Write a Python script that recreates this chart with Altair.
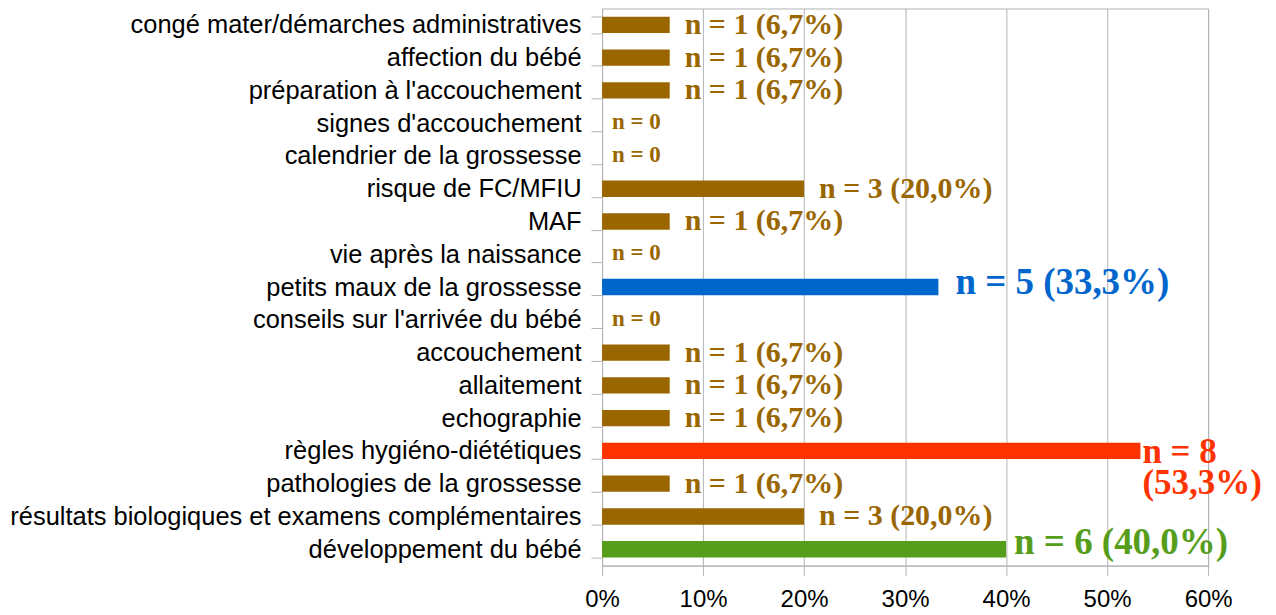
import altair as alt
import pandas as pd

categories = [
    "congé mater/démarches administratives",
    "affection du bébé",
    "préparation à l'accouchement",
    "signes d'accouchement",
    "calendrier de la grossesse",
    "risque de FC/MFIU",
    "MAF",
    "vie après la naissance",
    "petits maux de la grossesse",
    "conseils sur l'arrivée du bébé",
    "accouchement",
    "allaitement",
    "echographie",
    "règles hygiéno-diététiques",
    "pathologies de la grossesse",
    "résultats biologiques et examens complémentaires",
    "développement du bébé",
]
counts = [1, 1, 1, 0, 0, 3, 1, 0, 5, 0, 1, 1, 1, 8, 1, 3, 6]
percents = [6.7, 6.7, 6.7, 0, 0, 20.0, 6.7, 0, 33.3, 0, 6.7, 6.7, 6.7, 53.3, 6.7, 20.0, 40.0]
highlights = {
    "petits maux de la grossesse": "blue",
    "règles hygiéno-diététiques": "red",
    "développement du bébé": "green",
}

COLORS = {"brown": "#996600", "blue": "#0066CC", "red": "#FF3300", "green": "#579D1C"}

rows = []
for cat, n, p in zip(categories, counts, percents):
    hl = highlights.get(cat)
    pct_txt = f"{p:.1f}".replace(".", ",")
    if n == 0:
        label, group = "n = 0", "zero"
    elif hl == "red":
        label, group = f"n = {n}\n({pct_txt}%)", "red"
    elif hl:
        label, group = f"n = {n} ({pct_txt}%)", hl
    else:
        label, group = f"n = {n} ({pct_txt}%)", "brown"
    rows.append({"cat": cat, "pct": p, "label": label, "group": group,
                 "color": COLORS[hl] if hl else COLORS["brown"]})
df = pd.DataFrame(rows)

y_enc = alt.Y(
    "cat:N", sort=categories, title=None,
    scale=alt.Scale(paddingInner=0.5, paddingOuter=0.25),
    axis=alt.Axis(
        labelFont="Liberation Sans", labelFontSize=25.5, labelColor="#000000",
        labelPadding=10, labelLimit=1000, tickSize=11, tickColor="#b3b3b3",
        domainColor="#b3b3b3", tickBand="extent", grid=False,
    ),
)
x_enc = alt.X(
    "pct:Q", title=None,
    scale=alt.Scale(domain=[0, 60], nice=False),
    axis=alt.Axis(
        values=[0, 10, 20, 30, 40, 50, 60], labelExpr="datum.value + '%'",
        labelFont="Liberation Sans", labelFontSize=24, labelColor="#000000",
        labelPadding=12, labelFlush=False, tickSize=10, tickColor="#b3b3b3",
        domainColor="#b3b3b3", gridColor="#b3b3b3", gridWidth=1,
    ),
)

base = alt.Chart(df)
bars = base.mark_bar().encode(x=x_enc, y=y_enc, color=alt.Color("color:N", scale=None))

text_styles = {
    "brown": dict(fontSize=30, dx=15, dy=9, color=COLORS["brown"]),
    "zero": dict(fontSize=23, dx=10, dy=6, color=COLORS["brown"]),
    "blue": dict(fontSize=37, dx=17, dy=7, color=COLORS["blue"]),
    "green": dict(fontSize=37, dx=8, dy=5, color=COLORS["green"]),
    "red": dict(fontSize=35, dx=2, dy=12, color=COLORS["red"], lineHeight=31),
}

layers = [bars]
for g, st in text_styles.items():
    layers.append(
        base.transform_filter(alt.datum.group == g)
        .mark_text(font="Liberation Serif", fontWeight="bold", align="left",
                   baseline="alphabetic", lineBreak="\n", **st)
        .encode(x=alt.X("pct:Q"), y=alt.Y("cat:N", sort=categories), text="label:N")
    )

chart = (
    alt.layer(*layers)
    .properties(
        width=607, height=558,
        autosize=alt.AutoSizeParams(type="none"),
        padding={"left": 595, "top": 0, "right": 60, "bottom": 45},
    )
    .configure_view(stroke="#b3b3b3")
)

chart.save("out.html", embed_options={"renderer": "svg", "actions": False})
